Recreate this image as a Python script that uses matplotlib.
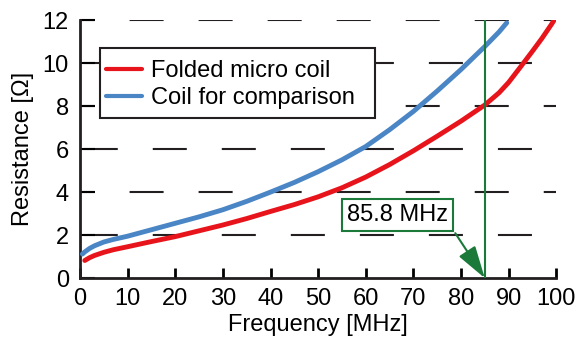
import numpy as np
import matplotlib.pyplot as plt
from matplotlib.patches import Rectangle

plt.rcParams['font.family'] = ['Liberation Sans', 'DejaVu Sans']
plt.rcParams['lines.scale_dashes'] = False

# values
freq_folded = [1, 2, 3, 5, 7, 10, 15, 20, 25, 30, 35, 40, 45, 50, 55, 60, 65,
               70, 75, 80, 85, 88, 90, 92.5, 95, 97, 99, 100]
res_folded = [0.82, 0.95, 1.05, 1.2, 1.32, 1.46, 1.7, 1.93, 2.2, 2.47, 2.77,
              3.1, 3.42, 3.78, 4.2, 4.7, 5.28, 5.92, 6.6, 7.3, 8.05, 8.62,
              9.1, 9.82, 10.55, 11.15, 11.8, 12.15]

freq_comp = [0.5, 1, 2, 3, 5, 7, 10, 15, 20, 25, 30, 35, 40, 45, 50, 55, 60,
             65, 70, 75, 80, 85, 88, 89.6]
res_comp = [1.12, 1.22, 1.38, 1.5, 1.68, 1.8, 1.95, 2.25, 2.55, 2.85, 3.18,
            3.57, 4.0, 4.45, 4.95, 5.5, 6.12, 6.9, 7.75, 8.7, 9.7, 10.77,
            11.45, 11.87]

marker_freq = 85
marker_text = '85.8 MHz'

fig = plt.figure(figsize=(5.8, 3.4), dpi=100)
ax = fig.add_axes([0.138, 0.182, 0.821, 0.759])

# dashed grid, two alternating phases
for i, y in enumerate([2, 4, 6, 8, 10, 12]):
    off = 47 if i % 2 == 0 else 14
    ax.axhline(y, color='#231f20', lw=1.5, linestyle=(off, (24.5, 25.2)), zorder=1)

ax.plot(freq_folded, res_folded, color='#e8141c', lw=3.5, label='Folded micro coil',
        solid_capstyle='round', zorder=3)
ax.plot(freq_comp, res_comp, color='#4a86c5', lw=3.5, label='Coil for comparison',
        solid_capstyle='round', zorder=3)

green = '#1b7a3a'
ax.plot([marker_freq, marker_freq], [0, 12], color=green, lw=1.5, zorder=4)
ax.text(66.7, 2.93, marker_text, ha='center', va='center', fontsize=17, zorder=5,
        bbox=dict(boxstyle='square,pad=0.2', fc='white', ec=green, lw=1.5))
ax.annotate('', xy=(marker_freq, 0), xytext=(78.8, 2.09), zorder=5,
            arrowprops=dict(arrowstyle='-|>,head_length=1.0,head_width=0.3',
                            mutation_scale=20, color=green, lw=1.5,
                            shrinkA=0, shrinkB=0))

# legend box drawn by hand (wider on the right than matplotlib pads it)
ax.add_patch(Rectangle((0.042, 0.62), 0.578, 0.271, transform=ax.transAxes,
                       fc='white', ec='#231f20', lw=1.5, zorder=5))
leg = ax.legend(loc='upper left', bbox_to_anchor=(0.055, 0.845), fontsize=17,
                frameon=False, handlelength=1.5, handletextpad=0.4,
                borderpad=0, labelspacing=0.2, borderaxespad=0)
leg.set_zorder(6)
for h in leg.get_lines():
    h.set_linewidth(3)

ax.set_xlim(0, 100)
ax.set_ylim(0, 12)
ax.set_xticks(np.arange(0, 101, 10))
ax.set_yticks(np.arange(0, 13, 2))
ax.tick_params(axis='x', direction='in', length=7, width=2, labelsize=17, pad=7)
ax.tick_params(axis='y', direction='in', length=11, width=1.5, labelsize=17, pad=8)
for s in ['top', 'right']:
    ax.spines[s].set_visible(False)
for s in ['left', 'bottom']:
    ax.spines[s].set_linewidth(2)
    ax.spines[s].set_color('#231f20')

ax.set_xlabel('Frequency [MHz]', fontsize=17, labelpad=3)
ax.set_ylabel('Resistance [Ω]', fontsize=17, labelpad=6)

fig.savefig('out.png', dpi=100)
